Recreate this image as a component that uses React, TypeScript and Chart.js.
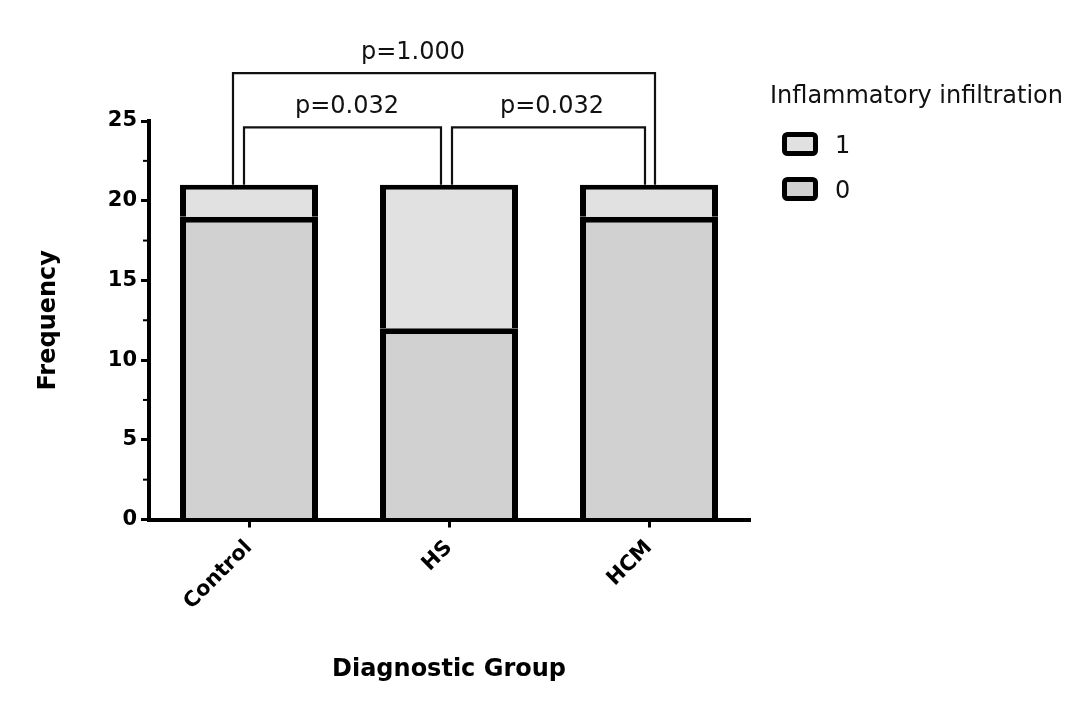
import React, { useEffect, useRef } from "react";
import { Chart, registerables } from "chart.js";

Chart.register(...registerables);

// ---- data ----
const categories = ["Control", "HS", "HCM"];
const values0 = [19, 12, 19]; // Inflammatory infiltration = 0
const values1 = [2, 9, 2]; // Inflammatory infiltration = 1
const seriesNames = ["0", "1"];
const yTickStep = 5;
const yMin = 0;
const yMax = 25;
const minorTicks = [2.5, 7.5, 12.5, 17.5, 22.5];
const comparisons = [
  [0, 2],
  [0, 1],
  [1, 2],
];
const pLabels = ["p=1.000", "p=0.032", "p=0.032"];
const xTitle = "Diagnostic Group";
const yTitle = "Frequency";
const legendTitle = "Inflammatory infiltration";

// ---- styling / annotation geometry ----
const FONT = "'DejaVu Sans', sans-serif";
const COLORS = ["#d1d1d1", "#e1e1e1"];
const bracketGeom = [
  { top: 28.0, legOffsets: [-0.08, 0.03], labelAt: 0.82 },
  { top: 24.6, legOffsets: [-0.025, -0.04], labelAt: 0.49 },
  { top: 24.6, legOffsets: [0.015, -0.02], labelAt: 1.515 },
];

const extrasPlugin = {
  id: "extras",
  afterDraw(chart: any) {
    const { ctx, scales } = chart;
    const x = scales.x;
    const y = scales.y;
    ctx.save();
    // minor ticks on y axis
    ctx.strokeStyle = "#000";
    ctx.lineWidth = 2;
    const axisX = chart.chartArea.left;
    minorTicks.forEach((v) => {
      const py = y.getPixelForValue(v);
      ctx.beginPath();
      ctx.moveTo(axisX - 6, py);
      ctx.lineTo(axisX, py);
      ctx.stroke();
    });

    // significance brackets
    const totals = categories.map((_, i) => values0[i] + values1[i]);
    ctx.strokeStyle = "#111";
    ctx.lineWidth = 2.2;
    ctx.fillStyle = "#111";
    ctx.font = `24px ${FONT}`;
    ctx.textAlign = "center";
    ctx.textBaseline = "alphabetic";
    const catW = x.getPixelForValue(1) - x.getPixelForValue(0);
    comparisons.forEach(([a, b], k) => {
      const g = bracketGeom[k];
      const x1 = x.getPixelForValue(a) + g.legOffsets[0] * catW;
      const x2 = x.getPixelForValue(b) + g.legOffsets[1] * catW;
      const yTop = y.getPixelForValue(g.top);
      const y1 = y.getPixelForValue(totals[a]);
      const y2 = y.getPixelForValue(totals[b]);
      ctx.beginPath();
      ctx.moveTo(x1, y1);
      ctx.lineTo(x1, yTop);
      ctx.lineTo(x2, yTop);
      ctx.lineTo(x2, y2);
      ctx.stroke();
      const lx = x.getPixelForValue(0) + g.labelAt * catW;
      ctx.fillText(pLabels[k], lx, yTop - 14);
    });

    // legend
    ctx.textAlign = "left";
    ctx.fillStyle = "#111";
    ctx.font = `24px ${FONT}`;
    ctx.fillText(legendTitle, 770, 103);
    const ds = chart.data.datasets.slice().reverse();
    ds.forEach((d: any, i: number) => {
      const bx = 782;
      const by = 132 + i * 45;
      const w = 36;
      const h = 24;
      ctx.beginPath();
      if (ctx.roundRect) ctx.roundRect(bx + 2.5, by + 2.5, w - 5, h - 5, 3);
      else ctx.rect(bx + 2.5, by + 2.5, w - 5, h - 5);
      ctx.fillStyle = d.backgroundColor;
      ctx.fill();
      ctx.lineWidth = 5;
      ctx.strokeStyle = "#000";
      ctx.stroke();
      ctx.fillStyle = "#111";
      ctx.fillText(d.label, 835, by + 21);
    });
    ctx.restore();
  },
};

export default function App() {
  const ref = useRef<HTMLCanvasElement | null>(null);

  useEffect(() => {
    if (!ref.current) return;
    const tickFont = { family: FONT, size: 21, weight: "bold" as const };
    const titleFont = { family: FONT, size: 24, weight: "bold" as const };
    const chart = new Chart(ref.current, {
      type: "bar",
      data: {
        labels: categories,
        datasets: [
          {
            label: seriesNames[0],
            data: values0,
            backgroundColor: COLORS[0],
            borderColor: "#000",
            borderWidth: { top: 6, left: 6, right: 6, bottom: 0 },
            borderSkipped: false,
            barPercentage: 0.69,
            categoryPercentage: 1,
          },
          {
            label: seriesNames[1],
            data: values1,
            backgroundColor: COLORS[1],
            borderColor: "#000",
            borderWidth: { top: 5, left: 6, right: 6, bottom: 0 },
            borderSkipped: false,
            barPercentage: 0.69,
            categoryPercentage: 1,
          },
        ],
      },
      options: {
        responsive: false,
        animation: false,
        devicePixelRatio: 1,
        layout: { padding: { top: 121, right: 330, left: 0, bottom: 0 } },
        plugins: {
          legend: { display: false },
          tooltip: { enabled: false },
        },
        scales: {
          x: {
            stacked: true,
            offset: true,
            grid: {
              display: true,
              drawOnChartArea: false,
              drawTicks: true,
              tickLength: 8,
              tickWidth: 3,
              tickColor: "#000",
              lineWidth: 3,
              color: "#000",
              offset: false,
            },
            border: { display: true, color: "#000", width: 4 },
            ticks: {
              color: "#000",
              font: tickFont,
              minRotation: 45,
              maxRotation: 45,
              padding: 8,
              autoSkip: false,
            },
            title: {
              display: true,
              text: xTitle,
              color: "#000",
              font: titleFont,
              padding: { top: 0, bottom: 24 },
            },
            afterFit: (s: any) => {
              s.height = 188.5;
            },
          },
          y: {
            stacked: true,
            min: yMin,
            max: yMax,
            ticks: {
              stepSize: yTickStep,
              color: "#000",
              font: tickFont,
              padding: 4,
            },
            grid: {
              drawOnChartArea: false,
              drawTicks: true,
              tickLength: 8,
              tickWidth: 3,
              tickColor: "#000",
              lineWidth: 3,
              color: "#000",
            },
            border: { display: true, color: "#000", width: 4 },
            title: {
              display: true,
              text: yTitle,
              color: "#000",
              font: titleFont,
              padding: { top: 34, bottom: 0 },
            },
            afterFit: (s: any) => {
              s.width = 149;
            },
          },
        },
      },
      plugins: [extrasPlugin],
    });
    return () => chart.destroy();
  }, []);

  return (
    <div style={{ position: "absolute", left: 0, top: 0, width: 1079, height: 708, background: "#fff" }}>
      <canvas ref={ref} width={1079} height={708} style={{ display: "block", width: 1079, height: 708 }} />
    </div>
  );
}
